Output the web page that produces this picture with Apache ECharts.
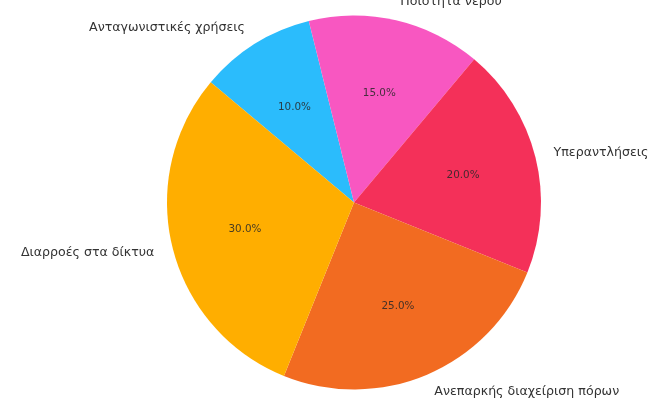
<!DOCTYPE html>
<html><head><meta charset="utf-8">
<script src="https://cdn.jsdelivr.net/npm/echarts@6/dist/echarts.min.js"></script>
<style>html,body{margin:0;padding:0;background:#fff}#c{width:668px;height:410px}</style>
</head><body><div id="c"></div>
<script>
const categories = ['Ανταγωνιστικές χρήσεις', 'Ποιότητα νερού', 'Υπεραντλήσεις', 'Ανεπαρκής διαχείριση πόρων', 'Διαρροές στα δίκτυα'];
const values = [10, 15, 20, 25, 30];
const colors = ['#2bbcfc', '#f857c1', '#f43059', '#f26b21', '#ffae00'];

const R = 187;
const cx = 354, cy = 202.5;
const data = categories.map((n, i) => ({ name: n, value: values[i], itemStyle: { color: colors[i] } }));
const total = values.reduce((a, b) => a + b, 0);

const chart = echarts.init(document.getElementById('c'), null, { renderer: 'canvas' });
chart.setOption({
  backgroundColor: '#fff',
  animation: false,
  series: [
    {
      type: 'pie', center: [cx, cy], radius: R, startAngle: 140, clockwise: true,
      avoidLabelOverlap: false, silent: true,
      data: data,
      label: { show: true, position: 'outside', fontFamily: 'DejaVu Sans', fontSize: 12.6, color: '#333',
        distanceToLabelLine: 0, padding: [3, 0, 0, 0], formatter: '{b}' },
      labelLine: { show: false, length: 18.7, length2: 0 },
      emphasis: { disabled: true }
    },
    {
      type: 'pie', center: [cx, cy], radius: R * 1.17, startAngle: 140, clockwise: true,
      avoidLabelOverlap: false, silent: true,
      data: categories.map((n, i) => ({ name: n, value: values[i] })),
      itemStyle: { color: 'rgba(0,0,0,0)' },
      label: { show: true, position: 'inside', fontFamily: 'DejaVu Sans', fontSize: 10.4, color: 'rgba(40,40,40,0.85)',
        formatter: p => (p.value / total * 100).toFixed(1) + '%' },
      labelLine: { show: false },
      emphasis: { disabled: true }
    }
  ]
});
</script></body></html>
